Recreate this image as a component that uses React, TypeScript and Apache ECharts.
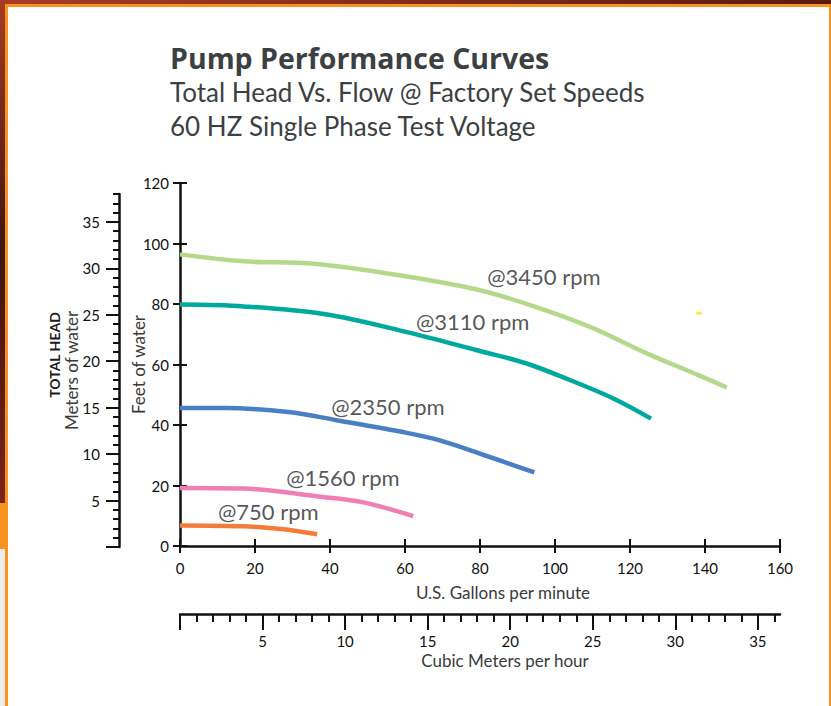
import React, { useEffect, useRef } from "react";
import * as echarts from "echarts";

const FONT = "Lato, 'Open Sans', sans-serif";

const gpmTicks = [0, 20, 40, 60, 80, 100, 120, 140, 160];
const feetTicks = [0, 20, 40, 60, 80, 100, 120];
const meterMajor = [0, 5, 10, 15, 20, 25, 30, 35];
const meterLabels = [5, 10, 15, 20, 25, 30, 35];
const meterMinor = Array.from({ length: 39 }, (_, i) => i);
const cmhMajor = [0, 5, 10, 15, 20, 25, 30, 35];
const cmhLabels = [5, 10, 15, 20, 25, 30, 35];
const cmhMinor = Array.from({ length: 37 }, (_, i) => i);

// [GPM, feet]
const rpm3450 = [[0, 96.4], [17, 94.1], [35.8, 93.3], [58.5, 89.5], [79.2, 84.8], [95, 79.0], [109.8, 72.2], [124.6, 63.6], [138.4, 56.4], [145.8, 52.4]];
const rpm3110 = [[0, 79.8], [17, 79.2], [38.8, 76.6], [60.5, 70.7], [79.2, 64.7], [92, 60.5], [101.9, 55.9], [115.7, 48.7], [125.6, 42.1]];
const rpm2350 = [[0, 45.6], [12.1, 45.6], [28.9, 44.3], [41.7, 41.6], [60.5, 37.4], [69.3, 34.9], [81.2, 30.0], [94.5, 24.3]];
const rpm1560 = [[0, 19.2], [17, 19.0], [36.8, 16.4], [48.6, 14.5], [62.2, 9.9]];
const rpm750 = [[0, 6.8], [17, 6.5], [26.9, 5.6], [36.6, 3.9]];

const curveNames = ["@3450 rpm", "@3110 rpm", "@2350 rpm", "@1560 rpm", "@750 rpm"];
const curveColors = ["#b5d98b", "#00a99d", "#4a7fc6", "#ef80b6", "#f37c3a"];
const curveData = [rpm3450, rpm3110, rpm2350, rpm1560, rpm750];
// label anchor points [GPM, feet] (left edge, vertical centre)
const labelPos = [[81.9, 89.1], [62.9, 74.3], [40.3, 46.2], [28.3, 22.7], [10.1, 11.5]];
const strayDot = [[138.4, 77.0]];

const GPM_TO_CMH = 0.227125;

export default function App() {
  const ref = useRef<HTMLDivElement>(null);
  useEffect(() => {
    if (!ref.current) return;
    const chart = echarts.init(ref.current, undefined, { renderer: "svg" });
    const tickLabel = { color: "#111", fontSize: 15, fontFamily: FONT };
    const nameStyle = { color: "#3a3a3a", fontSize: 17, fontFamily: FONT };
    const line = { show: true, lineStyle: { color: "#111", width: 2.5 } };
    const tick = (len: number, inside = false) => ({ show: true, inside, length: len, lineStyle: { color: "#111", width: 2 } });

    const option: any = {
      animation: false,
      backgroundColor: "#ffffff",
      title: [
        { text: "Pump Performance Curves", left: 170, top: 43, padding: 0, textStyle: { fontSize: 28.5, fontWeight: "bold", color: "#3b4142", fontFamily: "'Open Sans', Lato, sans-serif" } },
        { text: "Total Head Vs. Flow @ Factory Set Speeds", left: 170, top: 79, padding: 0, textStyle: { fontSize: 26, fontWeight: "normal", color: "#3b4142", fontFamily: FONT } },
        { text: "60 HZ Single Phase Test Voltage", left: 170, top: 113, padding: 0, textStyle: { fontSize: 26, fontWeight: "normal", color: "#3b4142", fontFamily: FONT } },
      ],
      grid: [
        { left: 180, top: 183, width: 600, height: 363 },
        { left: 119, top: 194, width: 10, height: 353 },
        { left: 180, top: 612, width: 600, height: 2 },
      ],
      xAxis: [
        {
          type: "value", gridIndex: 0, min: 0, max: 160, interval: 20, position: "bottom",
          axisLine: line, axisTick: tick(7), splitLine: { show: false },
          axisLabel: { ...tickLabel, margin: 14, customValues: gpmTicks },
          name: "U.S. Gallons per minute", nameLocation: "middle", nameGap: 38, nameMoveOverlap: false,
          nameTextStyle: { ...nameStyle, padding: [0, 0, 0, 46] },
        },
        {
          type: "value", gridIndex: 0, min: 0, max: 160, interval: 20, position: "bottom",
          axisLine: { show: false }, axisTick: tick(7, true), axisLabel: { show: false }, splitLine: { show: false },
        },
        { type: "value", gridIndex: 1, show: false, min: 0, max: 1 },
        {
          type: "value", gridIndex: 2, min: 0, max: 160 * GPM_TO_CMH, position: "bottom",
          axisLine: line, axisTick: { ...tick(16), customValues: cmhMajor }, splitLine: { show: false },
          axisLabel: { ...tickLabel, margin: 19, customValues: cmhLabels },
          name: "Cubic Meters per hour", nameLocation: "middle", nameGap: 38, nameMoveOverlap: false,
          nameTextStyle: { ...nameStyle, padding: [0, 0, 0, 50] },
        },
        {
          type: "value", gridIndex: 2, min: 0, max: 160 * GPM_TO_CMH, position: "bottom",
          axisLine: { show: false }, axisTick: { ...tick(8), customValues: cmhMinor }, axisLabel: { show: false }, splitLine: { show: false },
        },
      ],
      yAxis: [
        {
          type: "value", gridIndex: 0, min: 0, max: 120, interval: 20, position: "left",
          axisLine: line, axisTick: tick(7), splitLine: { show: false },
          axisLabel: { ...tickLabel, margin: 11, customValues: feetTicks },
          name: "Feet of water", nameLocation: "middle", nameGap: 33, nameMoveOverlap: false, nameTextStyle: nameStyle,
        },
        {
          type: "value", gridIndex: 0, min: 0, max: 120, interval: 20, position: "left",
          axisLine: { show: false }, axisTick: tick(7, true), axisLabel: { show: false }, splitLine: { show: false },
        },
        {
          type: "value", gridIndex: 1, min: 0, max: 38, position: "left",
          axisLine: line, axisTick: { ...tick(13), customValues: meterMajor }, splitLine: { show: false },
          axisLabel: { ...tickLabel, margin: 19, customValues: meterLabels },
          name: "Meters of water", nameLocation: "middle", nameGap: 39, nameMoveOverlap: false, nameTextStyle: nameStyle,
        },
        {
          type: "value", gridIndex: 1, min: 0, max: 38, position: "left",
          axisLine: { show: false }, axisTick: { ...tick(6), customValues: meterMinor }, axisLabel: { show: false }, splitLine: { show: false },
        },
        { type: "value", gridIndex: 2, show: false, min: 0, max: 1 },
      ],
      series: [
        ...curveData.map((d, i) => ({
          type: "line", name: curveNames[i], xAxisIndex: 0, yAxisIndex: 0, data: d,
          smooth: 0.35, showSymbol: false, symbol: "none",
          lineStyle: { color: curveColors[i], width: 4.5 },
        })),
        {
          type: "scatter", xAxisIndex: 0, yAxisIndex: 0, symbolSize: 0, silent: true,
          data: labelPos.map((p, i) => [p[0], p[1], curveNames[i]]),
          label: {
            show: true, position: "right", distance: 0, formatter: (p: any) => p.value[2],
            fontSize: 22, fontWeight: "normal", color: "#2a2a2a", fontFamily: FONT,
          },
        },
        {
          type: "scatter", xAxisIndex: 0, yAxisIndex: 0, symbol: "rect", symbolSize: [5, 3], silent: true,
          data: strayDot, itemStyle: { color: "#ffe100" },
        },
      ],
      graphic: [
        { type: "rect", shape: { x: 0, y: 0, width: 831, height: 4 }, style: { fill: new echarts.graphic.LinearGradient(0, 0, 1, 0, [{ offset: 0, color: "#a83d24" }, { offset: 1, color: "#5a1a10" }]) } },
        { type: "rect", shape: { x: 0, y: 0, width: 5, height: 503 }, style: { fill: new echarts.graphic.LinearGradient(0, 0, 0, 1, [{ offset: 0, color: "#a63c24" }, { offset: 0.5, color: "#3e1510" }, { offset: 1, color: "#7a2416" }]) } },
        { type: "rect", shape: { x: 0, y: 503, width: 8, height: 46 }, style: { fill: "#f7931e" } },
        { type: "rect", shape: { x: 0, y: 549, width: 5, height: 157 }, style: { fill: "#ececec" } },
        { type: "rect", shape: { x: 5, y: 4, width: 826, height: 3 }, style: { fill: "#f7931e" } },
        { type: "rect", shape: { x: 5, y: 4, width: 3, height: 702 }, style: { fill: "#f7931e" } },
        { type: "rect", shape: { x: 829, y: 4, width: 2, height: 702 }, style: { fill: "#f7931e" } },
        {
          type: "text", x: 54, y: 355, rotation: Math.PI / 2,
          style: { text: "TOTAL HEAD", fontSize: 14, fontWeight: "bold", fill: "#1a1a1a", fontFamily: FONT, align: "center", verticalAlign: "middle" },
        },
      ],
    };
    chart.setOption(option);
    return () => chart.dispose();
  }, []);
  return (
    <div
      ref={ref}
      style={{ position: "fixed", left: 0, top: 0, width: 831, height: 706, background: "#fff" }}
    />
  );
}
